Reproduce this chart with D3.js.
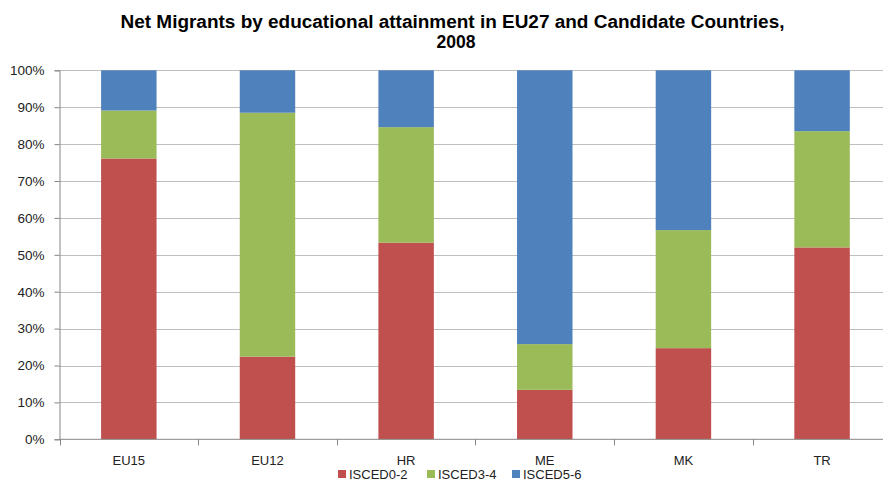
<!DOCTYPE html>
<html>
<head>
<meta charset="utf-8">
<script src="https://cdn.jsdelivr.net/npm/d3@7/dist/d3.min.js"></script>
<style>
  html, body { margin: 0; padding: 0; background: #fff; }
  svg { display: block; }
</style>
</head>
<body>
<svg id="chart" width="883" height="481"></svg>
<script>
// Shares of net migrants by educational attainment (fractions, stacked to 1)
const categories = ["EU15", "EU12", "HR", "ME", "MK", "TR"];
const seriesNames = ["ISCED0-2", "ISCED3-4", "ISCED5-6"];
const isced02 = [0.761, 0.224, 0.533, 0.134, 0.247, 0.520];
const isced34 = [0.130, 0.661, 0.313, 0.124, 0.320, 0.315];
const isced56 = [0.109, 0.115, 0.154, 0.742, 0.433, 0.165];
const yTicks = [0, 0.1, 0.2, 0.3, 0.4, 0.5, 0.6, 0.7, 0.8, 0.9, 1.0];
const colors = ["#C0504D", "#9BBB59", "#4F81BD"];

const svg = d3.select("#chart");
const plot = { left: 59.5, right: 891.4, top: 70.3, bottom: 439.3 };

const x = d3.scaleBand()
  .domain(categories)
  .range([plot.left, plot.right])
  .paddingInner(0.6)
  .paddingOuter(0.3);

const y = d3.scaleLinear()
  .domain([0, 1])
  .range([plot.bottom, plot.top]);

// Title
const title = svg.append("g")
  .attr("font-family", "'Liberation Sans', Arial, sans-serif")
  .attr("font-weight", "bold")
  .attr("font-size", 17.5)
  .attr("fill", "#000")
  .attr("text-anchor", "middle");
title.append("text")
  .attr("x", 452.5).attr("y", 28)
  .attr("textLength", 664).attr("lengthAdjust", "spacingAndGlyphs")
  .text("Net Migrants by educational attainment in EU27 and Candidate Countries,");
title.append("text")
  .attr("x", 456).attr("y", 48)
  .attr("textLength", 39).attr("lengthAdjust", "spacingAndGlyphs")
  .text("2008");

// Horizontal gridlines
svg.append("g")
  .selectAll("line")
  .data(yTicks.filter(d => d > 0))
  .join("line")
  .attr("x1", plot.left).attr("x2", plot.right)
  .attr("y1", d => Math.round(y(d)) + 0.5).attr("y2", d => Math.round(y(d)) + 0.5)
  .attr("stroke", "#BEBEBE").attr("stroke-width", 1.2);

// Stacked bars
const rows = categories.map((c, i) => ({
  cat: c, "ISCED0-2": isced02[i], "ISCED3-4": isced34[i], "ISCED5-6": isced56[i]
}));
const stacked = d3.stack().keys(seriesNames)(rows);

svg.append("g")
  .selectAll("g")
  .data(stacked)
  .join("g")
  .attr("fill", (d, i) => colors[i])
  .selectAll("rect")
  .data(d => d)
  .join("rect")
  .attr("x", d => x(d.data.cat))
  .attr("width", x.bandwidth())
  .attr("y", d => y(d[1]))
  .attr("height", d => y(d[0]) - y(d[1]));

// Y axis
const yAxis = d3.axisLeft(y)
  .tickValues(yTicks)
  .tickFormat(d3.format(".0%"))
  .tickSize(5)
  .tickPadding(10);
const yg = svg.append("g")
  .attr("transform", `translate(${plot.left},0)`)
  .call(yAxis);
yg.select(".domain").attr("stroke", "#868686");
yg.selectAll(".tick line").attr("stroke", "#868686");
yg.selectAll(".tick text")
  .attr("font-family", "'Liberation Sans', Arial, sans-serif")
  .attr("font-size", 13.5)
  .attr("fill", "#222");

// X axis with tick marks at category boundaries
const xg = svg.append("g")
  .attr("transform", `translate(0,${plot.bottom})`);
xg.append("line")
  .attr("x1", plot.left).attr("x2", plot.right)
  .attr("stroke", "#868686");
const step = x.step();
xg.selectAll("line.tick")
  .data(d3.range(categories.length + 1))
  .join("line")
  .attr("class", "tick")
  .attr("x1", i => Math.round(plot.left + i * step) + 0.5)
  .attr("x2", i => Math.round(plot.left + i * step) + 0.5)
  .attr("y1", 0).attr("y2", 6)
  .attr("stroke", "#868686");
xg.selectAll("text")
  .data(categories)
  .join("text")
  .attr("x", d => x(d) + x.bandwidth() / 2)
  .attr("y", 25.5)
  .attr("text-anchor", "middle")
  .attr("font-family", "'Liberation Sans', Arial, sans-serif")
  .attr("font-size", 13)
  .attr("fill", "#222")
  .text(d => d);

// Legend
const legendX = [338, 427, 512];
const legend = svg.append("g")
  .selectAll("g")
  .data(seriesNames)
  .join("g")
  .attr("transform", (d, i) => `translate(${legendX[i]},470)`);
legend.append("rect")
  .attr("width", 8).attr("height", 8)
  .attr("fill", (d, i) => colors[i]);
legend.append("text")
  .attr("x", 11).attr("y", 9)
  .attr("font-family", "'Liberation Sans', Arial, sans-serif")
  .attr("font-size", 13)
  .attr("fill", "#222")
  .text(d => d);
</script>
</body>
</html>
